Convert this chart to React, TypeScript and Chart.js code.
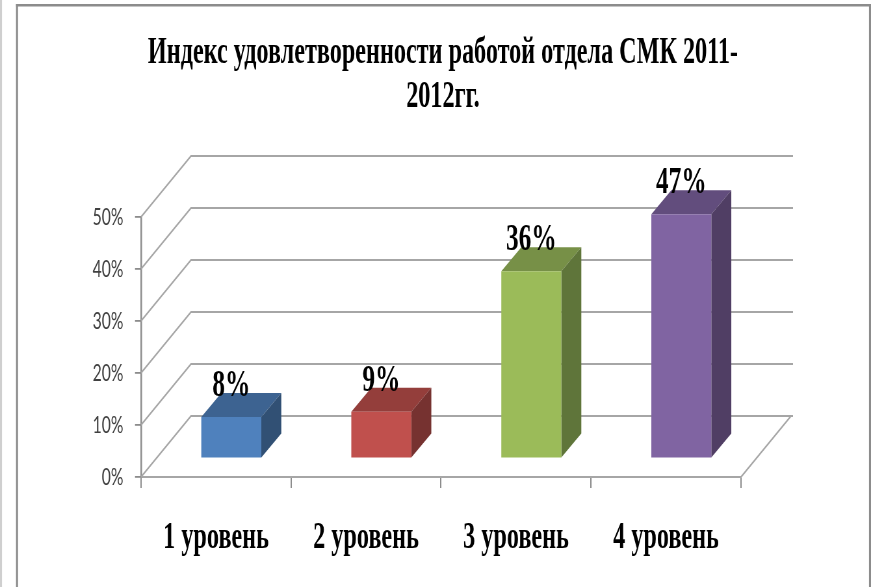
import React, { useEffect, useRef } from "react";
import { Chart, registerables } from "chart.js";

Chart.register(...registerables);

const titleLines = ["Индекс удовлетворенности работой отдела СМК 2011-", "2012гг."];
const categories = ["1 уровень", "2 уровень", "3 уровень", "4 уровень"];
const values = [8, 9, 36, 47];
const yTicks = [0, 10, 20, 30, 40, 50];
const frontColors = ["#4f81bd", "#c0504d", "#9bbb59", "#8064a2"];
const topColors = ["#3d6391", "#943e3b", "#779047", "#624d7d"];
const sideColors = ["#315074", "#763230", "#5f753a", "#503e64"];

const SX = 0.65;
const W = Math.round(873 / SX);
const H = 587;
const px = (x: number) => x / SX;

const depth3d = {
  id: "depth3d",
  beforeDraw(chart: any) {
    const { ctx } = chart;
    ctx.save();
    ctx.fillStyle = "#ffffff";
    ctx.fillRect(0, 0, W, H);
    ctx.fillStyle = "#8c8c8c";
    ctx.fillRect(px(16), 4, px(2), H);
    ctx.fillRect(px(16), 4, px(855), 2.5);
    ctx.fillRect(px(869), 4, px(2), H);
    ctx.fillStyle = "#cfcfcf";
    ctx.fillRect(0, 0, px(2), H);
    ctx.restore();
  },
  beforeDatasetsDraw(chart: any) {
    const { ctx, scales } = chart;
    const y = scales.y;
    const area = chart.chartArea;
    const dx = px(50);
    const dy = 61;
    ctx.save();
    ctx.strokeStyle = "#a6a6a6";
    ctx.lineWidth = 2;
    yTicks.forEach((t) => {
      const yy = y.getPixelForValue(t);
      ctx.beginPath();
      ctx.moveTo(area.left, yy);
      ctx.lineTo(area.left + dx, yy - dy);
      ctx.lineTo(area.right + dx + px(2), yy - dy);
      ctx.stroke();
    });
    const y0 = y.getPixelForValue(0);
    ctx.beginPath();
    ctx.moveTo(area.right, y0);
    ctx.lineTo(area.right + dx, y0 - dy);
    ctx.stroke();
    ctx.restore();
  },
  beforeDatasetDraw(chart: any) {
    const { ctx } = chart;
    const meta = chart.getDatasetMeta(0);
    ctx.save();
    ctx.translate(px(15.3), -18.5);
    const ox = px(20);
    const oy = 24;
    meta.data.forEach((bar: any, i: number) => {
      const l = bar.x - bar.width / 2;
      const r = bar.x + bar.width / 2;
      ctx.fillStyle = topColors[i];
      ctx.beginPath();
      ctx.moveTo(l, bar.y);
      ctx.lineTo(l + ox, bar.y - oy);
      ctx.lineTo(r + ox, bar.y - oy);
      ctx.lineTo(r, bar.y);
      ctx.closePath();
      ctx.fill();
      ctx.fillStyle = sideColors[i];
      ctx.beginPath();
      ctx.moveTo(r, bar.y);
      ctx.lineTo(r + ox, bar.y - oy);
      ctx.lineTo(r + ox, bar.base - oy);
      ctx.lineTo(r, bar.base);
      ctx.closePath();
      ctx.fill();
    });
  },
  afterDatasetDraw(chart: any) {
    const { ctx } = chart;
    const meta = chart.getDatasetMeta(0);
    ctx.fillStyle = "#000000";
    ctx.font = "bold 38.8px 'Liberation Serif'";
    ctx.textAlign = "center";
    ctx.textBaseline = "alphabetic";
    meta.data.forEach((bar: any, i: number) => {
      ctx.fillText(values[i] + "%", bar.x, bar.y - 21);
    });
    ctx.restore();
  },
};

export default function App() {
  const ref = useRef<HTMLCanvasElement>(null);
  useEffect(() => {
    const chart = new Chart(ref.current as HTMLCanvasElement, {
      type: "bar",
      data: {
        labels: categories,
        datasets: [
          {
            data: values,
            backgroundColor: frontColors,
            categoryPercentage: 0.4,
            barPercentage: 1,
            clip: false as any,
          },
        ],
      },
      options: {
        responsive: false,
        animation: false,
        devicePixelRatio: 1,
        layout: { padding: { left: 20, right: 0, top: 0, bottom: 0 } },
        plugins: {
          legend: { display: false },
          tooltip: { enabled: false },
          title: {
            display: true,
            text: titleLines,
            color: "#000000",
            font: { family: "'Liberation Serif'", size: 37.2, weight: "bold", lineHeight: 1.17 },
            padding: { top: 32, bottom: 98 },
          },
        },
        scales: {
          x: {
            afterFit(scale: any) {
              scale.height = H - 477;
            },
            grid: {
              drawOnChartArea: false,
              drawTicks: true,
              tickLength: 11,
              color: "#8c8c8c",
              lineWidth: 2,
            },
            border: { color: "#a6a6a6", width: 2 },
            ticks: {
              color: "#000000",
              font: { family: "'Liberation Serif'", size: 37.2, weight: "bold" },
              padding: 28,
              autoSkip: false,
              maxRotation: 0,
            },
          },
          y: {
            min: 0,
            max: 50,
            afterFit(scale: any) {
              scale.width = px(141) - 20;
            },
            grid: { drawOnChartArea: false, tickLength: px(6), color: "#8c8c8c", lineWidth: 1.8 },
            border: { color: "#8c8c8c", width: 2.5 },
            ticks: {
              stepSize: 10,
              color: "#404040",
              font: { family: "Lato", size: 24 },
              padding: 18,
              callback: (v: any) => v + "%",
            },
          },
          spacer: {
            position: "right",
            min: 0,
            max: 1,
            afterFit(scale: any) {
              scale.width = W - px(741);
            },
            grid: { display: false },
            border: { display: false },
            ticks: { display: false },
          },
        },
      },
      plugins: [depth3d],
    });
    return () => chart.destroy();
  }, []);
  return (
    <div style={{ position: "fixed", left: 0, top: 0, width: 873, height: 587, overflow: "hidden", background: "#fff" }}>
      <canvas
        ref={ref}
        width={W}
        height={H}
        style={{ display: "block", transform: `scaleX(${SX})`, transformOrigin: "0 0", filter: "blur(0.4px)" }}
      />
    </div>
  );
}
